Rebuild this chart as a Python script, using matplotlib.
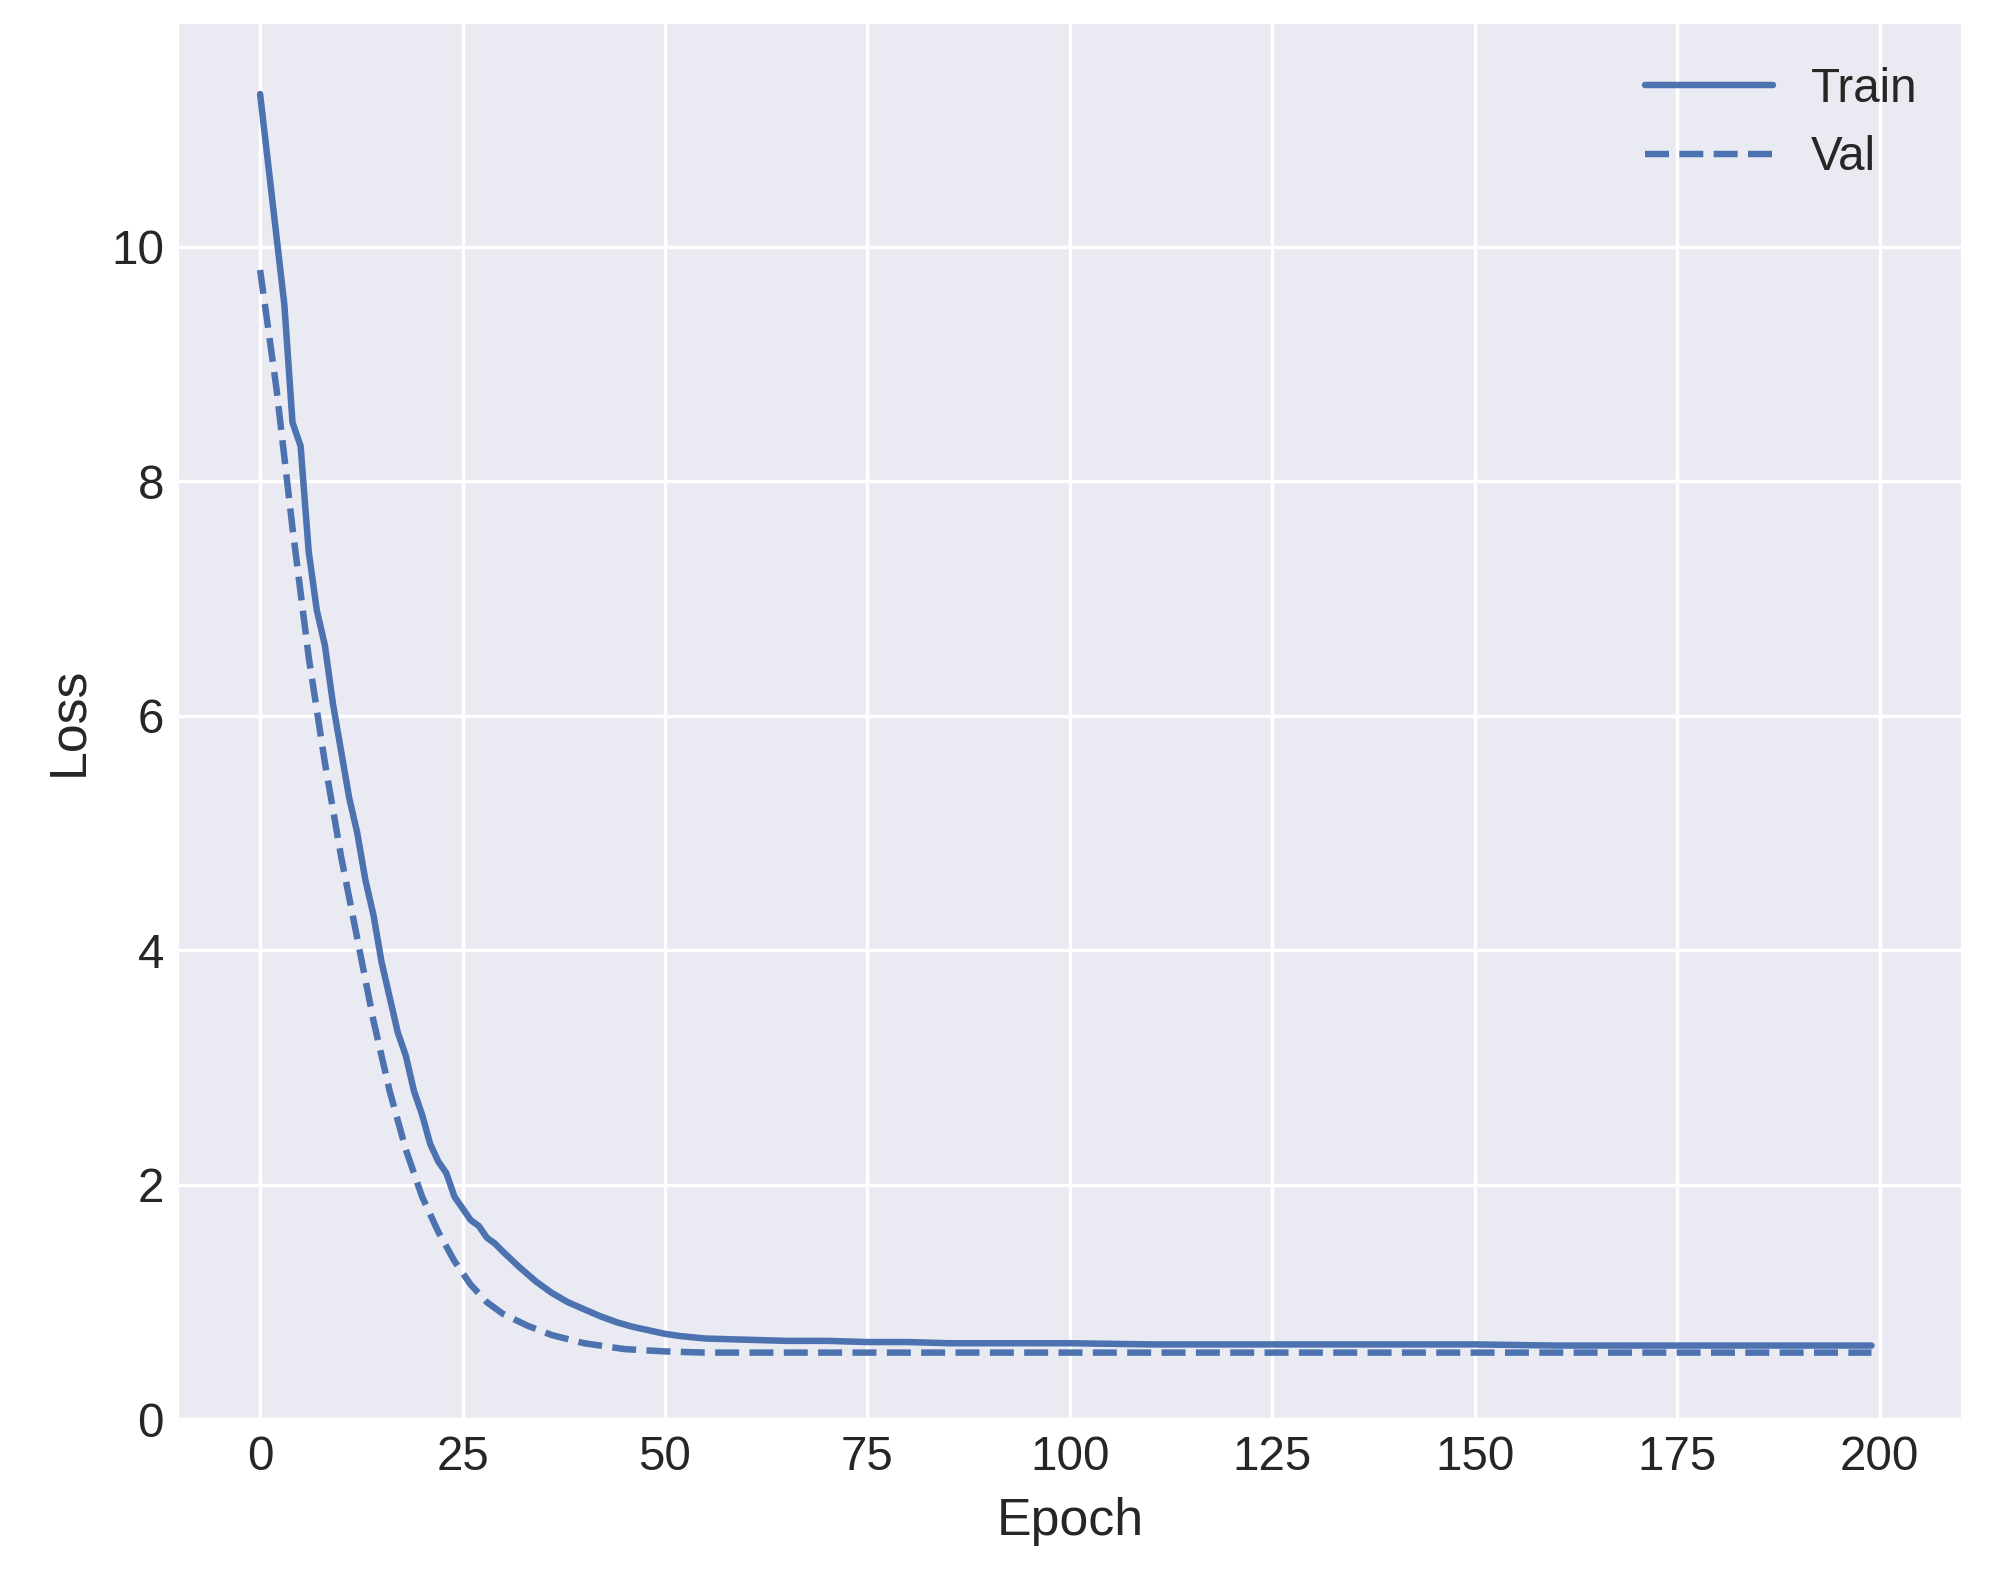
import matplotlib
matplotlib.use("Agg")
import matplotlib.pyplot as plt

train_epochs = [0,1,2,3,4,5,6,7,8,9,10,11,12,13,14,15,16,17,18,19,20,21,22,23,24,25,26,27,28,29,30,32,34,36,38,40,42,44,46,48,50,52,55,60,65,70,75,80,85,90,95,100,110,120,130,140,150,160,170,180,190,199]
train_loss = [11.3,10.7,10.1,9.5,8.5,8.3,7.4,6.9,6.6,6.1,5.7,5.3,5.0,4.6,4.3,3.9,3.6,3.3,3.1,2.8,2.6,2.35,2.2,2.1,1.9,1.8,1.7,1.65,1.55,1.5,1.43,1.3,1.18,1.08,1.0,0.94,0.88,0.83,0.79,0.76,0.73,0.71,0.69,0.68,0.67,0.67,0.66,0.66,0.65,0.65,0.65,0.65,0.64,0.64,0.64,0.64,0.64,0.63,0.63,0.63,0.63,0.63]
val_epochs = [0,2,4,6,8,10,12,14,16,18,20,22,24,26,28,30,33,36,40,45,50,55,60,80,100,120,140,160,180,199]
val_loss = [9.8,8.8,7.6,6.5,5.6,4.8,4.1,3.4,2.8,2.3,1.9,1.6,1.35,1.15,1.0,0.9,0.8,0.72,0.65,0.6,0.58,0.57,0.57,0.57,0.57,0.57,0.57,0.57,0.57,0.57]

plt.style.use("seaborn-v0_8-darkgrid")
plt.rcParams['font.family'] = ['Liberation Sans', 'DejaVu Sans']
fig, ax = plt.subplots(figsize=(6.4, 5.1), dpi=311)
c = "#4c72b0"
ax.plot(train_epochs, train_loss, color=c, lw=1.5, label="Train")
ax.plot(val_epochs, val_loss, color=c, lw=1.5, ls="--", label="Val")
ax.set_xlim(-10, 210)
ax.set_ylim(0, 11.9)
ax.set_xticks([0,25,50,75,100,125,150,175,200])
ax.set_yticks([0,2,4,6,8,10])
ax.set_xlabel("Epoch", fontsize=12)
ax.set_ylabel("Loss", fontsize=12)
ax.tick_params(labelsize=11)
ax.legend(fontsize=11, loc="upper right", handlelength=2.7)
fig.subplots_adjust(left=0.09, right=0.985, top=0.985, bottom=0.105)
fig.savefig("out.png")
